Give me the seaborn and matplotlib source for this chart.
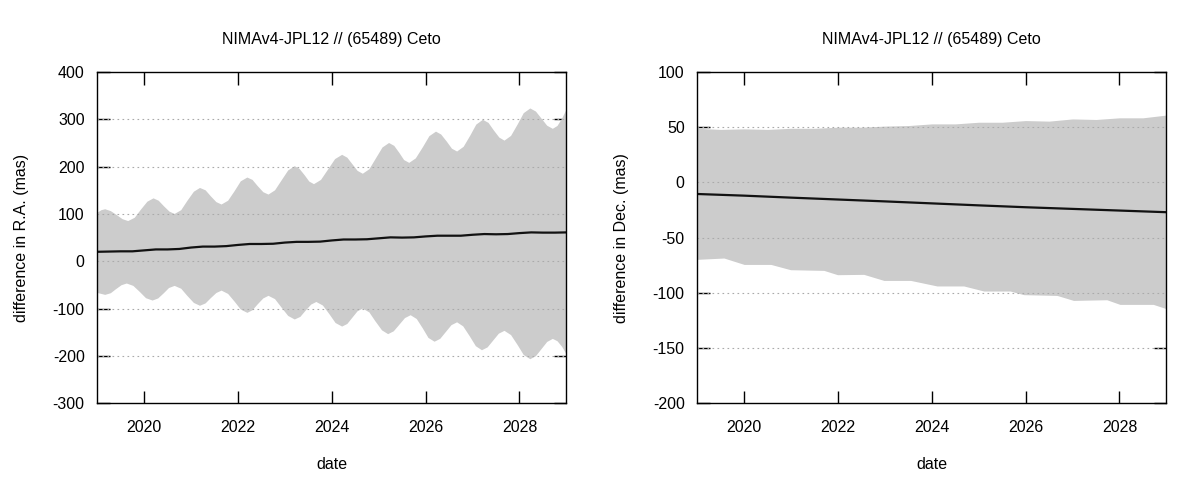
import numpy as np
import pandas as pd
import seaborn as sns
import matplotlib.pyplot as plt

title = "NIMAv4-JPL12 // (65489) Ceto"

# ---- R.A. panel: envelope (upper / lower)
ra_up_t = [2019.00, 2019.08, 2019.16, 2019.28, 2019.41, 2019.53, 2019.65, 2019.79, 2019.92, 2020.06,
           2020.19, 2020.30, 2020.41, 2020.53, 2020.64, 2020.78, 2020.91, 2021.05,
           2021.18, 2021.30, 2021.41, 2021.53, 2021.64, 2021.78, 2021.92, 2022.05,
           2022.19, 2022.30, 2022.41, 2022.53, 2022.64, 2022.78, 2022.92, 2023.06,
           2023.20, 2023.30, 2023.41, 2023.51, 2023.61, 2023.76, 2023.91, 2024.06,
           2024.21, 2024.32, 2024.43, 2024.54, 2024.65, 2024.79, 2024.93, 2025.07,
           2025.21, 2025.32, 2025.43, 2025.53, 2025.64, 2025.78, 2025.93, 2026.07,
           2026.21, 2026.32, 2026.44, 2026.55, 2026.66, 2026.80, 2026.94, 2027.07,
           2027.21, 2027.33, 2027.44, 2027.56, 2027.67, 2027.81, 2027.95, 2028.08,
           2028.22, 2028.34, 2028.46, 2028.58, 2028.70, 2028.80, 2028.90, 2029.00]
ra_up_v = [104, 109, 111, 107, 98.5, 90, 86, 93, 110, 127,
           134, 129, 117.5, 106, 101, 109, 128.5, 148,
           156, 151, 138.5, 126, 121, 129, 149.5, 170,
           178, 173, 160, 147, 142, 151, 172, 193,
           202, 196.5, 183, 169.5, 164, 173, 195, 217,
           226, 220, 206, 192, 186, 195.5, 218.5, 241.5,
           251, 245, 230, 215, 209, 218.5, 242, 265.5,
           275, 269, 254, 239, 233, 243, 266.5, 290,
           300, 293.5, 278, 262.5, 256, 266, 290, 314,
           324, 317.5, 302.5, 287.5, 281, 287, 303, 323]

ra_lo_t = [2019.00, 2019.08, 2019.16, 2019.28, 2019.39, 2019.51, 2019.62, 2019.76, 2019.90, 2020.03,
           2020.17, 2020.29, 2020.41, 2020.52, 2020.64, 2020.78, 2020.91, 2021.05,
           2021.18, 2021.30, 2021.41, 2021.53, 2021.64, 2021.78, 2021.92, 2022.05,
           2022.19, 2022.30, 2022.41, 2022.53, 2022.64, 2022.78, 2022.92, 2023.06,
           2023.20, 2023.32, 2023.43, 2023.55, 2023.66, 2023.80, 2023.94, 2024.07,
           2024.21, 2024.32, 2024.43, 2024.54, 2024.65, 2024.79, 2024.92, 2025.06,
           2025.19, 2025.31, 2025.43, 2025.55, 2025.67, 2025.80, 2025.93, 2026.05,
           2026.18, 2026.30, 2026.42, 2026.54, 2026.66, 2026.79, 2026.93, 2027.06,
           2027.19, 2027.31, 2027.43, 2027.55, 2027.67, 2027.81, 2027.95, 2028.08,
           2028.22, 2028.34, 2028.46, 2028.58, 2028.70, 2028.80, 2028.90, 2029.00]
ra_lo_v = [-66, -68, -70, -66.5, -58, -49.5, -46, -51, -64, -77,
           -82, -77.5, -66.5, -55.5, -51, -57, -72, -87,
           -93, -88, -77, -66, -61, -68, -84.5, -101,
           -108, -102.5, -90, -77.5, -72, -79, -97, -114.5,
           -122, -116.5, -103.5, -90.5, -85, -92.5, -111, -129.5,
           -137, -131.5, -118, -104.5, -99, -107, -126, -145,
           -153, -147, -133, -119, -113, -121, -141, -161,
           -169, -163, -148.5, -134, -128, -136.5, -157.5, -178.5,
           -187, -181, -166.5, -152, -146, -155, -176, -197,
           -206, -199.5, -184.5, -169.5, -163, -168, -180, -197]

ra_line_t = [2019.0, 2019.25, 2019.5, 2019.75, 2020.0, 2020.25, 2020.5, 2020.75,
             2021.0, 2021.25, 2021.5, 2021.75, 2022.0, 2022.25, 2022.5, 2022.75,
             2023.0, 2023.25, 2023.5, 2023.75, 2024.0, 2024.25, 2024.5, 2024.75,
             2025.0, 2025.25, 2025.5, 2025.75, 2026.0, 2026.25, 2026.5, 2026.75,
             2027.0, 2027.25, 2027.5, 2027.75, 2028.0, 2028.25, 2028.5, 2028.75, 2029.0]
ra_line_v = [20, 20.5, 21, 21, 23, 25, 25, 26,
             29, 31, 31, 32, 34.5, 36.5, 36.5, 37,
             39.5, 41, 41, 41.5, 44, 46, 46, 46.5,
             48.5, 50.5, 50, 50.5, 52.5, 54, 54, 54,
             56, 57.5, 57, 57.5, 59.5, 61, 60.5, 60.5, 61]

# ---- Dec. panel
dec_up_t = [2019.0, 2019.5, 2020.0, 2020.5, 2021.0, 2021.5, 2022.0, 2022.5, 2023.0,
            2023.5, 2024.0, 2024.5, 2025.0, 2025.5, 2026.0, 2026.5, 2027.0, 2027.5,
            2028.0, 2028.5, 2029.0]
dec_up_v = [49, 48, 48.5, 48, 49, 49, 50, 50, 51, 51.5, 53, 53, 54.5, 54.5, 56, 55.5,
            57.5, 57, 58.5, 58.5, 61]

dec_lo_t = [2019.0, 2019.57, 2020.0, 2020.57, 2020.99, 2021.70, 2021.99, 2022.55,
            2022.98, 2023.55, 2024.11, 2024.68, 2025.11, 2025.67, 2025.96, 2026.67,
            2027.02, 2027.73, 2028.01, 2028.72, 2029.0]
dec_lo_v = [-69.7, -68.5, -74.3, -74.3, -79.1, -79.7, -83.6, -83.3, -88.8, -88.8,
            -93.8, -93.8, -98.4, -98.4, -101.7, -102.4, -106.9, -106.3, -110.5,
            -110.5, -114.4]

dec_line_t = [2019, 2020, 2021, 2022, 2023, 2024, 2025, 2026, 2027, 2028, 2029]
dec_line_v = [-10.5, -12, -13.8, -15.5, -17.2, -19, -20.8, -22.5, -24, -25.5, -27]

sns.set_style("ticks")
plt.rcParams['font.family'] = ['Liberation Sans', 'DejaVu Sans']
plt.rcParams['axes.unicode_minus'] = False
plt.rcParams['text.color'] = 'black'
plt.rcParams['axes.labelcolor'] = 'black'
plt.rcParams['xtick.color'] = 'black'
plt.rcParams['ytick.color'] = 'black'

fig = plt.figure(figsize=(12, 4.8), dpi=100)
ax1 = fig.add_axes([0.081, 0.160, 0.391, 0.690])
ax2 = fig.add_axes([0.581, 0.160, 0.391, 0.690])


def panel(ax, up_t, up_v, lo_t, lo_v, ln_t, ln_v, ylim, yticks, ylabel):
    # common time grid only for the fill (values come from the read lists)
    t = np.union1d(up_t, lo_t)
    ax.fill_between(t, np.interp(t, lo_t, lo_v), np.interp(t, up_t, up_v),
                    color="#cccccc", lw=0, zorder=1)
    df = pd.DataFrame({"date": ln_t, "diff": ln_v})
    sns.lineplot(data=df, x="date", y="diff", ax=ax, color="#111111", lw=1.6, zorder=3)
    ax.set_xlim(2019, 2029)
    ax.set_ylim(*ylim)
    ax.set_xticks([2020, 2022, 2024, 2026, 2028])
    ax.set_yticks(yticks)
    for y in yticks[1:-1]:
        ax.axhline(y, color="#aaaaaa", lw=0.8, ls=(0, (1.5, 3)), zorder=2)
    ax.tick_params(direction="in", length=9, width=1, top=True, right=True,
                   labelsize=11.5, pad=9, color="black", labelcolor="black")
    ax.tick_params(axis="x", pad=12)
    for s in ax.spines.values():
        s.set_linewidth(1.0)
        s.set_color("black")
        s.set_zorder(5)
    ax.set_xlabel("date", fontsize=11.5, labelpad=16)
    ax.set_ylabel(ylabel, fontsize=11.5, labelpad=17)
    ax.set_title(title, fontsize=11.5, pad=20)


panel(ax1, ra_up_t, ra_up_v, ra_lo_t, ra_lo_v, ra_line_t, ra_line_v,
      (-300, 400), [-300, -200, -100, 0, 100, 200, 300, 400],
      "difference in R.A. (mas)")
panel(ax2, dec_up_t, dec_up_v, dec_lo_t, dec_lo_v, dec_line_t, dec_line_v,
      (-200, 100), [-200, -150, -100, -50, 0, 50, 100],
      "difference in Dec. (mas)")

fig.savefig("out.png", dpi=100)
